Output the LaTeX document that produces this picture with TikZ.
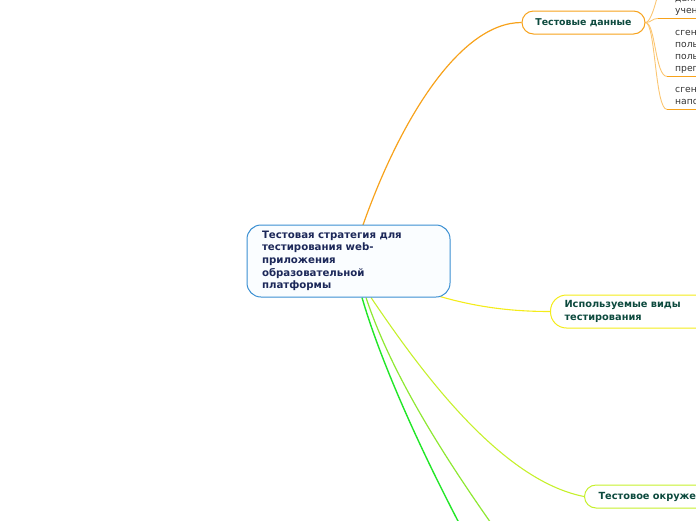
\documentclass[tikz,border=0pt]{standalone}
\usepackage{fontspec}
\setmainfont{DejaVu Sans}
\usetikzlibrary{backgrounds}
\definecolor{rootblue}{HTML}{3A8FD2}
\definecolor{rootfill}{HTML}{FAFDFF}
\definecolor{navy}{HTML}{1C2859}
\definecolor{dkgreen}{HTML}{0D4A3E}
\definecolor{orangeL}{HTML}{F7A21B}
\definecolor{orangeS}{HTML}{FBC673}
\definecolor{yellowL}{HTML}{F4EC1A}
\definecolor{ygreenL}{HTML}{C6F02C}
\definecolor{mgreenL}{HTML}{8EE832}
\definecolor{bgreenL}{HTML}{22E628}
\definecolor{subgray}{HTML}{333333}
\tikzset{
  rootnode/.style={draw=rootblue, line width=1pt, fill=rootfill, rounded corners=14pt,
    minimum height=72pt, text width=173pt, inner xsep=15pt, align=left,
    font=\fontsize{10.2}{12.6}\selectfont\bfseries, text=navy},
  topicnode/.style={line width=1pt, fill=white, inner ysep=0pt,
    font=\fontsize{9.4}{12.5}\selectfont\bfseries, text=dkgreen},
  subnode/.style={anchor=north west, inner xsep=8pt, inner ysep=1pt, align=left,
    text width=90pt, font=\fontsize{9.2}{12}\selectfont, text=subgray},
  subline/.style={draw=orangeS, line width=0.9pt},
  underl/.style={draw=orangeL, line width=1.8pt},
}
\begin{document}
\begin{tikzpicture}[x=1pt,y=-1pt]
\useasboundingbox (0,0) rectangle (696,520);
\clip (0,0) rectangle (696,520);
% nodes
\node[rootnode] (root) at (348.5,261) {Тестовая стратегия для\strut\\тестирования web-\strut\\приложения\strut\\образовательной\strut\\платформы\strut};
\node[topicnode, draw=orangeL, rounded corners=11.5pt, minimum width=123pt, minimum height=23pt] (td) at (583.5,22.5) {Тестовые данные};
\node[topicnode, draw=yellowL, rounded corners=16pt, anchor=west, minimum height=33pt, text width=140pt, inner xsep=14pt, align=left, font=\fontsize{9.8}{12.8}\selectfont\bfseries] (used) at (550,311.5) {Используемые виды\\тестирования};
\node[topicnode, draw=ygreenL, rounded corners=11.5pt, anchor=west, minimum height=23pt, text width=140pt, inner xsep=14pt, align=left, font=\fontsize{9.8}{12.5}\selectfont\bfseries] (env) at (584,496.5) {Тестовое окружение};
\node[subnode, inner xsep=17pt] (s1) at (658,-8) {данные\strut\\учеников\strut};
\node[subnode] (s2) at (667,26) {сгенерированные\strut\\пользователи\strut\\пользователи\strut\\преподаватели\strut};
\node[subnode] (s3) at (667,83) {сгенерированное\strut\\наполнение\strut};
\coordinate (s0) at (664,-30);
\coordinate (rO) at (363,225);
\coordinate (rY) at (440,296.5);
\coordinate (rYG) at (371,297.5);
\coordinate (rMG) at (366,297.5);
\coordinate (rBG) at (362,297.5);
\coordinate (eMG) at (503,540);
\coordinate (eBG) at (468,540);
\begin{pgfonlayer}{background}
\draw[orangeL, line width=1.2pt] (rO) .. controls (400,120) and (460,22.5) .. (td.west);
\draw[yellowL, line width=1.1pt] (rY) .. controls (480,308) and (515,311.5) .. (used.west);
\draw[ygreenL, line width=1.1pt] (rYG) .. controls (420,370) and (500,480) .. (env.west);
\draw[mgreenL, line width=1.2pt] (rMG) .. controls (390,370) and (440,452) .. (eMG);
\draw[bgreenL, line width=1.4pt] (rBG) .. controls (380,360) and (420,450) .. (eBG);
\draw[subline] (td.east) .. controls +(8,0) and +(-3,8) .. (s0);
\draw[subline] (td.east) .. controls +(6,0) and +(-6,0) .. (s1.south west);
\draw[subline] (td.east) .. controls +(10,0) and +(-12,0) .. (s2.south west);
\draw[subline] (td.east) .. controls +(10,0) and +(-12,0) .. (s3.south west);
\end{pgfonlayer}
\draw[underl] (s1.south west) -- (s1.south east);
\draw[underl] (s2.south west) -- (s2.south east);
\draw[underl] (s3.south west) -- (s3.south east);
\end{tikzpicture}
\end{document}
